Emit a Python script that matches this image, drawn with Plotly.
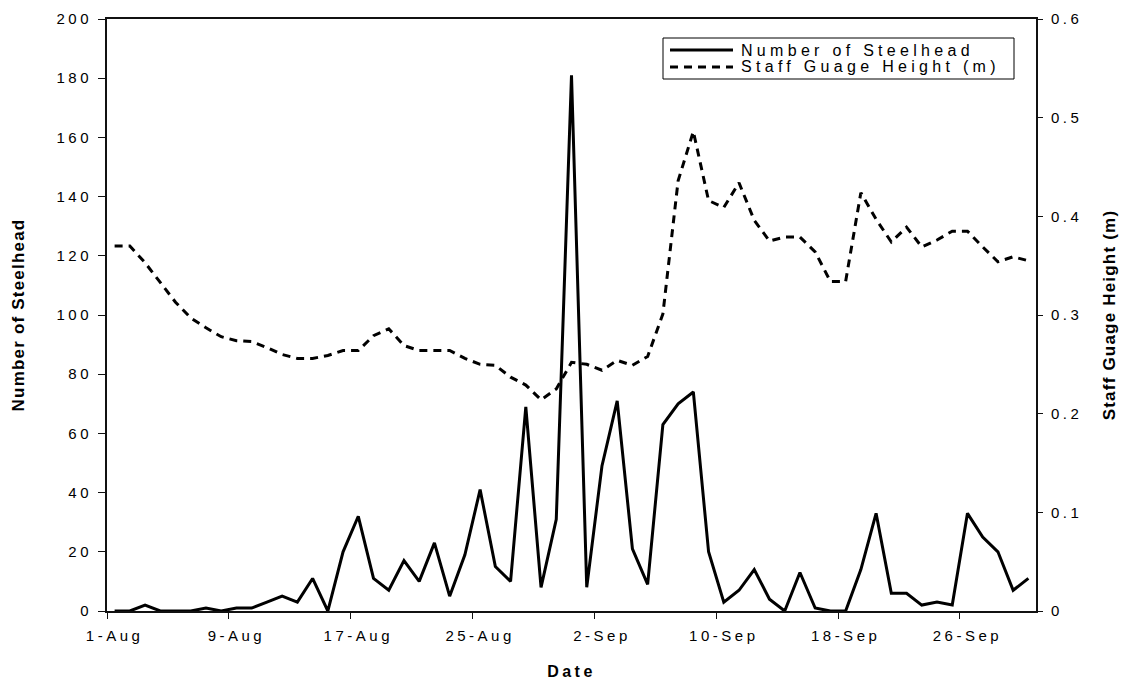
import plotly.graph_objects as go
import pandas as pd

# ---- data ----
dates = pd.date_range("2003-08-01", "2003-09-30", freq="D")
steelhead = [0, 0, 2, 0, 0, 0, 1, 0, 1, 1,
             3, 5, 3, 11, 0, 20, 32, 11, 7, 17,
             10, 23, 5, 19, 41, 15, 10, 69, 8, 31,
             181, 8, 49, 71, 21, 9, 63, 70, 74, 20,
             3, 7, 14, 4, 0, 13, 1, 0, 0, 14,
             33, 6, 6, 2, 3, 2, 33, 25, 20, 7,
             11]
gauge = [0.370, 0.370, 0.353, 0.333, 0.313, 0.297, 0.287, 0.278, 0.274, 0.273,
         0.267, 0.260, 0.256, 0.256, 0.259, 0.264, 0.264, 0.279, 0.286, 0.269,
         0.264, 0.264, 0.264, 0.256, 0.250, 0.249, 0.237, 0.229, 0.214, 0.225,
         0.252, 0.250, 0.244, 0.254, 0.249, 0.258, 0.301, 0.436, 0.486, 0.416,
         0.409, 0.434, 0.396, 0.375, 0.379, 0.379, 0.364, 0.334, 0.334, 0.424,
         0.397, 0.374, 0.389, 0.369, 0.376, 0.385, 0.385, 0.369, 0.354, 0.359,
         0.355]
series_names = ["Number of Steelhead", "Staff Guage Height (m)"]
label_every = 8
left_ticks = [0, 20, 40, 60, 80, 100, 120, 140, 160, 180, 200]
right_ticks = [0, 0.1, 0.2, 0.3, 0.4, 0.5, 0.6]
right_tick_text = ["0", "0.1", "0.2", "0.3", "0.4", "0.5", "0.6"]

FONT = "Arial, Liberation Sans, sans-serif"
W, H = 1122, 684
ML, MR, MT, MB = 107, 86, 19, 73
PW, PH = W - ML - MR, H - MT - MB


def spaced(s, ls=3.5):
    return f'<span style="letter-spacing:{ls}px">{s}</span>'


def px(xp):
    return (xp - ML) / PW


def py(yp):
    return (H - MB - yp) / PH


x_tickvals = list(dates[::label_every])
x_ticktext = [spaced(f"{d.day}-{d.strftime('%b')}") for d in x_tickvals]
x_minor = [d - pd.Timedelta(hours=12) for d in x_tickvals]

styles = [dict(color="black", width=3), dict(color="black", width=3, dash="8px,6px")]

fig = go.Figure()
fig.add_trace(go.Scatter(x=dates, y=steelhead, mode="lines", name=series_names[0],
                         line=styles[0], yaxis="y", showlegend=False))
fig.add_trace(go.Scatter(x=dates, y=gauge, mode="lines", name=series_names[1],
                         line=styles[1], yaxis="y2", showlegend=False))

axis_common = dict(showgrid=False, zeroline=False, showline=True, automargin=False,
                   linecolor="#111", linewidth=2, tickcolor="#111",
                   tickfont=dict(family=FONT, size=15, color="black"))

# custom legend box (matches the reference's compact layout)
shapes = [dict(type="rect", xref="paper", yref="paper",
               x0=px(663), x1=px(1014), y0=py(38), y1=py(79),
               line=dict(color="black", width=1), fillcolor="white", layer="above")]
annotations = []
for k, (name, st) in enumerate(zip(series_names, styles)):
    yy = 50 + 17 * k
    shapes.append(dict(type="line", xref="paper", yref="paper",
                       x0=px(670), x1=px(733), y0=py(yy), y1=py(yy),
                       line=st, layer="above"))
    annotations.append(dict(xref="paper", yref="paper", x=px(739), y=py(yy),
                            xanchor="left", yanchor="middle", showarrow=False,
                            text=spaced(name, 4.3),
                            font=dict(family=FONT, size=16, color="black")))

fig.update_layout(
    width=W, height=H,
    margin=dict(l=ML, r=MR, t=MT, b=MB, autoexpand=False),
    paper_bgcolor="white", plot_bgcolor="white",
    font=dict(family=FONT, color="black"),
    xaxis=dict(
        **axis_common, type="date",
        range=[dates[0] - pd.Timedelta(hours=12), dates[-1] + pd.Timedelta(hours=12)],
        tickmode="array", tickvals=x_tickvals, ticktext=x_ticktext, ticks="",
        ticklabelstandoff=10,
        minor=dict(tickmode="array", tickvals=x_minor, ticks="outside", ticklen=6,
                   tickcolor="#111", tickwidth=1, showgrid=False),
        mirror=True,
        title=dict(text=spaced("<b>Date</b>", 3.5), font=dict(family=FONT, size=16),
                   standoff=23)),
    yaxis=dict(
        **axis_common, range=[0, 200], tickmode="array", tickvals=left_ticks,
        ticktext=[spaced(str(v)) for v in left_ticks], ticks="outside", ticklen=7,
        ticklabelstandoff=3,
        title=dict(text=spaced("<b>Number of Steelhead</b>", 1.2),
                   font=dict(family=FONT, size=17), standoff=28)),
    yaxis2=dict(
        **axis_common, range=[0, 0.6], overlaying="y", side="right",
        tickmode="array", tickvals=right_ticks,
        ticktext=[spaced(t) for t in right_tick_text], ticks="outside", ticklen=5,
        ticklabelstandoff=5,
        title=dict(text=spaced("<b>Staff Guage Height (m)</b>", 1.2),
                   font=dict(family=FONT, size=17), standoff=22)),
    shapes=shapes,
    annotations=annotations,
    showlegend=False,
)

fig.write_html("out.html")
